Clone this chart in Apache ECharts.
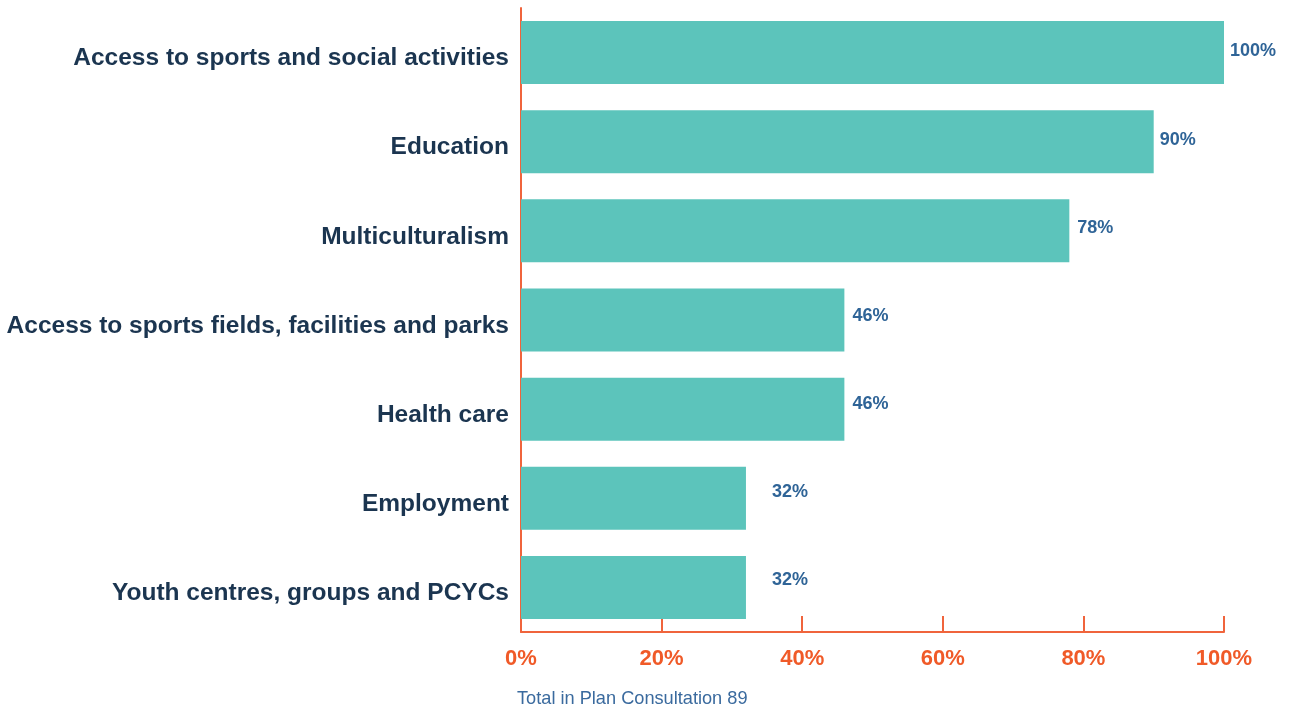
<!DOCTYPE html>
<html>
<head>
<meta charset="utf-8">
<script src="https://cdn.jsdelivr.net/npm/echarts@6/dist/echarts.min.js"></script>
<style>
  html, body { margin: 0; padding: 0; background: #fff; }
  #chart { width: 1290px; height: 713px; }
</style>
</head>
<body>
<div id="chart"></div>
<script>
// data
const categories = [
  "Access to sports and social activities",
  "Education",
  "Multiculturalism",
  "Access to sports fields, facilities and parks",
  "Health care",
  "Employment",
  "Youth centres, groups and PCYCs"
];
const percentValues = [100, 90, 78, 46, 46, 32, 32];
const xTicks = [0, 20, 40, 60, 80, 100];
const footerText = "Total in Plan Consultation 89";

// label nudges to match the original placement (x, y)
const labelNudge = [[0, -2], [0, -2], [2, -3], [2, -4], [2, -5], [20, -6], [20, -7]];

const orange = "#f0643c";
const chart = echarts.init(document.getElementById("chart"));

const seriesData = percentValues.map((v, i) => {
  return {
    value: v,
    label: { offset: labelNudge[i] }
  };
});

chart.setOption({
  animation: false,
  textStyle: { fontFamily: "Liberation Sans, Arial, sans-serif" },
  grid: { left: 521, right: 66, top: 8, bottom: 81, containLabel: false },
  xAxis: {
    type: "value",
    min: xTicks[0],
    max: xTicks[xTicks.length - 1],
    interval: 20,
    axisLine: { show: true, lineStyle: { color: orange, width: 2 } },
    axisTick: { show: true, inside: true, length: 16, lineStyle: { color: orange, width: 2 } },
    splitLine: { show: false },
    axisLabel: {
      formatter: "{value}%",
      color: "#f05a28",
      fontSize: 22,
      fontWeight: "bold",
      margin: 16
    }
  },
  yAxis: {
    type: "category",
    inverse: true,
    data: categories,
    axisLine: { show: true, lineStyle: { color: orange, width: 2 } },
    axisTick: { show: false },
    axisLabel: {
      color: "#1b3550",
      fontSize: 24.5,
      fontWeight: "bold",
      margin: 12,
      // push the text a few px below the band centre, as in the original
      verticalAlign: "top",
      lineHeight: 12
    }
  },
  series: [
    {
      type: "bar",
      data: seriesData,
      barWidth: 63,
      itemStyle: { color: "#5cc4bb" },
      label: {
        show: true,
        position: "right",
        distance: 6,
        formatter: "{c}%",
        color: "#2f6497",
        fontSize: 18,
        fontWeight: "bold"
      }
    }
  ],
  graphic: [
    {
      type: "text",
      left: 517,
      top: 690,
      style: {
        text: footerText,
        fill: "#3a6a9e",
        fontSize: 18.2,
        fontFamily: "Liberation Sans, Arial, sans-serif"
      }
    }
  ]
});
</script>
</body>
</html>
